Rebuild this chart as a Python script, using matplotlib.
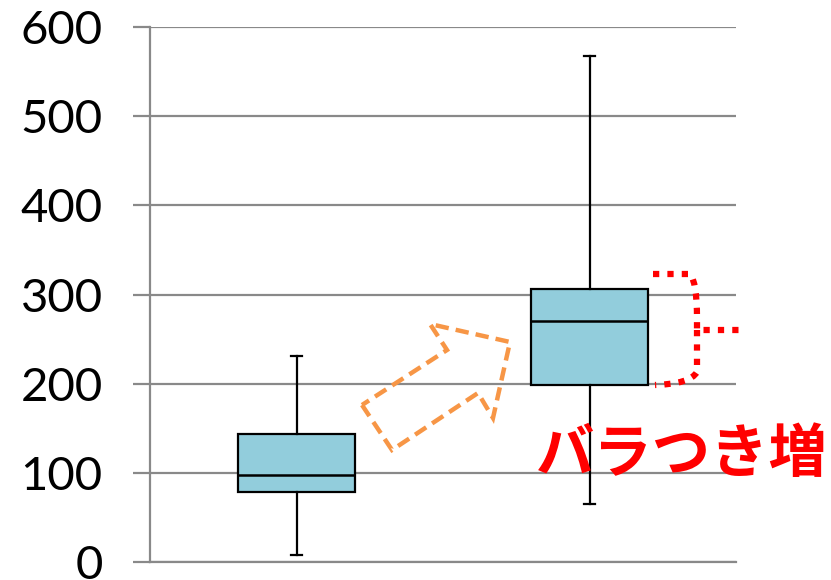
import numpy as np
import matplotlib
matplotlib.use('Agg')
import matplotlib.pyplot as plt
from matplotlib.patches import Polygon
from matplotlib.path import Path
from matplotlib.patches import PathPatch

# five-number summaries for the two groups
positions = [1, 2]
whisker_low = [8, 65]
q1 = [78, 199]
median = [98, 270]
q3 = [144, 306]
whisker_high = [231, 567]

y_ticks = [0, 100, 200, 300, 400, 500, 600]
note_text = 'バラつき増'

grid_color = '#898989'
box_color = '#92CDDC'

fig = plt.figure(figsize=(8.31, 5.8), dpi=100)
ax = fig.add_axes([150 / 831, 18 / 580, 586 / 831, 535 / 580])

stats = []
for i in range(len(positions)):
    stats.append({
        'whislo': whisker_low[i], 'q1': q1[i], 'med': median[i],
        'q3': q3[i], 'whishi': whisker_high[i], 'fliers': [],
    })

ax.bxp(stats, positions=positions, widths=0.4, patch_artist=True,
       showfliers=False, zorder=3,
       boxprops=dict(facecolor=box_color, edgecolor='black', linewidth=1.6),
       medianprops=dict(color='black', linewidth=1.8),
       whiskerprops=dict(color='black', linewidth=1.6),
       capprops=dict(color='black', linewidth=1.6),
       capwidths=0.04)

ax.set_xlim(0.5, 2.5)
ax.set_ylim(0, 600)
ax.set_yticks(y_ticks)
ax.set_xticks([])
ax.yaxis.grid(True, color=grid_color, linewidth=1.6, zorder=0)
ax.set_axisbelow(True)
for side in ['top', 'right']:
    ax.spines[side].set_visible(False)
ax.spines['left'].set_color(grid_color)
ax.spines['left'].set_linewidth(1.6)
ax.spines['bottom'].set_color(grid_color)
ax.spines['bottom'].set_linewidth(1.6)
ax.tick_params(axis='y', length=12, width=1.6, color=grid_color, pad=22,
               labelsize=34)
for lbl in ax.get_yticklabels():
    lbl.set_fontfamily('Lato')

# dashed block arrow between the boxes, placed in pixel terms
def pix(x, y):
    return (x / 831, 1 - y / 580)

arrow_pts = [pix(362, 405), pix(392, 450), pix(478, 393), pix(493, 418),
             pix(510, 342), pix(430, 324), pix(447, 350)]
fig.patches.append(Polygon(arrow_pts, closed=True, fill=False,
                           edgecolor='#F79646', linewidth=3.2,
                           linestyle=(0, (3, 1.6)),
                           transform=fig.transFigure, figure=fig))

# red dotted bracket beside the wider box
verts = [pix(653, 274), pix(690, 274), pix(697, 282), pix(697, 318),
         pix(697, 330), pix(745, 330),
         pix(697, 330), pix(697, 372), pix(690, 384), pix(655, 385)]
codes = [Path.MOVETO, Path.LINETO, Path.CURVE3, Path.CURVE3,
         Path.LINETO, Path.LINETO,
         Path.MOVETO, Path.LINETO, Path.CURVE3, Path.CURVE3]
bracket = PathPatch(Path(verts, codes), fill=False, edgecolor='#FF0000',
                    linewidth=4.5, linestyle=(0, (1, 1.3)),
                    transform=fig.transFigure)
fig.patches.append(bracket)

fig.text(*pix(536, 455), note_text, color='#FF0000', fontsize=42,
         fontweight='bold', family=['Noto Sans CJK JP', 'DejaVu Sans'],
         ha='left', va='center')

fig.savefig('out.png', dpi=100)
